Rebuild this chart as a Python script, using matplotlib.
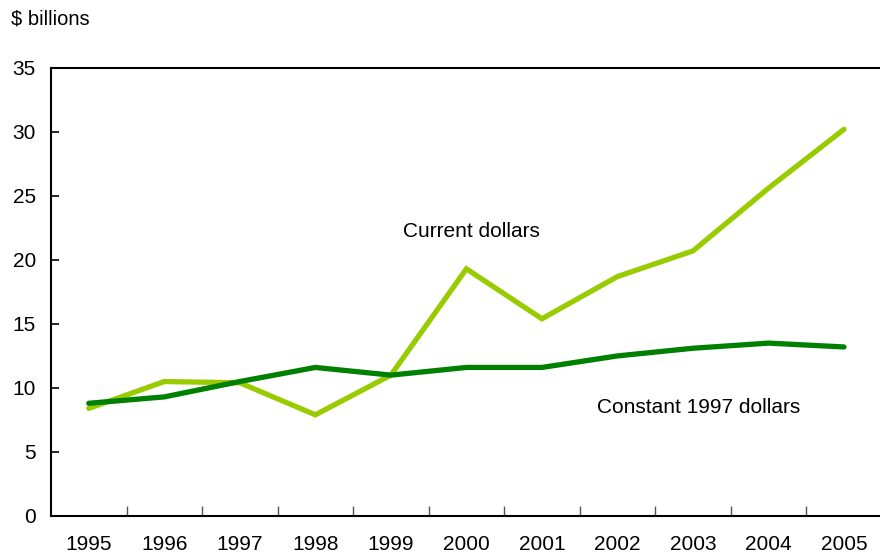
import numpy as np
import matplotlib
matplotlib.use('Agg')
import matplotlib.pyplot as plt

plt.rcParams['font.family'] = ['Liberation Sans', 'DejaVu Sans']

years = ['1995', '1996', '1997', '1998', '1999', '2000',
         '2001', '2002', '2003', '2004', '2005']
current = [8.4, 10.5, 10.4, 7.9, 11.0, 19.3, 15.4, 18.7, 20.7, 25.6, 30.2]
constant = [8.8, 9.3, 10.5, 11.6, 11.0, 11.6, 11.6, 12.5, 13.1, 13.5, 13.2]

fig = plt.figure(figsize=(8.8, 5.56), dpi=100)
ax = fig.add_axes([0.058, 0.072, 0.944, 0.806])

x = np.arange(len(years))
ax.plot(x, current, color='#99cc00', lw=3.8, solid_capstyle='round', solid_joinstyle='miter')
ax.plot(x, constant, color='#008000', lw=3.8, solid_capstyle='round', solid_joinstyle='miter')

ax.set_xlim(-0.5, len(years) - 0.5)
ax.set_ylim(0, 35)
ax.set_yticks(range(0, 36, 5))
ax.set_xticks(x)
ax.set_xticklabels(years)
ax.set_xticks(np.arange(-0.5, len(years) - 0.5, 1)[1:], minor=True)

ax.tick_params(axis='x', which='major', length=0, pad=14, labelsize=15)
ax.tick_params(axis='x', which='minor', direction='in', length=7, width=1, color='#555555')
ax.tick_params(axis='y', direction='in', length=6, width=1.2, pad=11, labelsize=15)

for s in ['left', 'bottom', 'top']:
    ax.spines[s].set_linewidth(1.5)
ax.spines['right'].set_visible(False)

ax.text(5.07, 22.2, 'Current dollars', fontsize=15, ha='center', va='center')
ax.text(8.08, 8.5, 'Constant 1997 dollars', fontsize=15, ha='center', va='center')
fig.text(0.012, 0.965, '$ billions', fontsize=14.5, ha='left', va='center')

fig.savefig('out.png', dpi=100)
